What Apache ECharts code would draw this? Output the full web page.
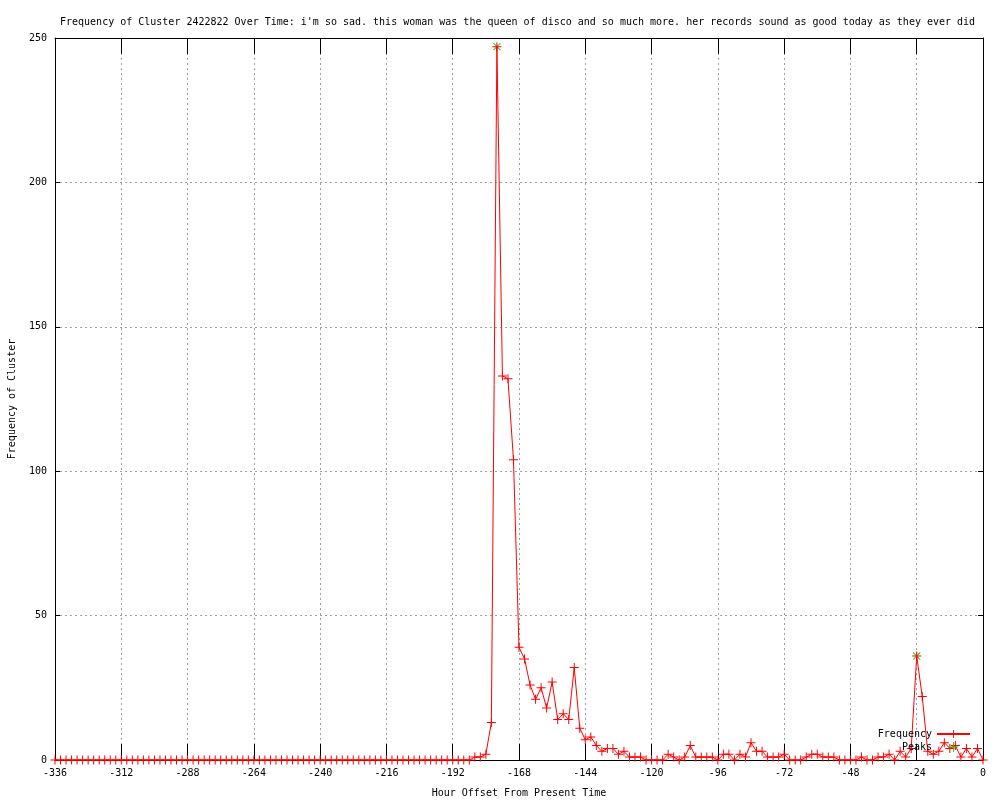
<!DOCTYPE html>
<html>
<head>
<meta charset="utf-8">
<title>Frequency of Cluster 2422822</title>
<script src="https://cdn.jsdelivr.net/npm/echarts@6/dist/echarts.min.js"></script>
<style>
  html, body { margin: 0; padding: 0; background: #fff; }
  #chart { width: 1000px; height: 800px; }
</style>
</head>
<body>
<div id="chart"></div>
<script>
// hour offsets, one row per 24 hours
const hours = [
  -336, -334, -332, -330, -328, -326, -324, -322, -320, -318, -316, -314,
  -312, -310, -308, -306, -304, -302, -300, -298, -296, -294, -292, -290,
  -288, -286, -284, -282, -280, -278, -276, -274, -272, -270, -268, -266,
  -264, -262, -260, -258, -256, -254, -252, -250, -248, -246, -244, -242,
  -240, -238, -236, -234, -232, -230, -228, -226, -224, -222, -220, -218,
  -216, -214, -212, -210, -208, -206, -204, -202, -200, -198, -196, -194,
  -192, -190, -188, -186, -184, -182, -180, -178, -176, -174, -172, -170,
  -168, -166, -164, -162, -160, -158, -156, -154, -152, -150, -148, -146,
  -144, -142, -140, -138, -136, -134, -132, -130, -128, -126, -124, -122,
  -120, -118, -116, -114, -112, -110, -108, -106, -104, -102, -100, -98,
  -96, -94, -92, -90, -88, -86, -84, -82, -80, -78, -76, -74,
  -72, -70, -68, -66, -64, -62, -60, -58, -56, -54, -52, -50,
  -48, -46, -44, -42, -40, -38, -36, -34, -32, -30, -28, -26,
  -24, -22, -20, -18, -16, -14, -12, -10, -8, -6, -4, -2,
  0
];

const frequency = [
  0, 0, 0, 0, 0, 0, 0, 0, 0, 0, 0, 0,
  0, 0, 0, 0, 0, 0, 0, 0, 0, 0, 0, 0,
  0, 0, 0, 0, 0, 0, 0, 0, 0, 0, 0, 0,
  0, 0, 0, 0, 0, 0, 0, 0, 0, 0, 0, 0,
  0, 0, 0, 0, 0, 0, 0, 0, 0, 0, 0, 0,
  0, 0, 0, 0, 0, 0, 0, 0, 0, 0, 0, 0,
  0, 0, 0, 0, 1, 1, 2, 13, 247, 133, 132, 104,
  39, 35, 26, 21, 25, 18, 27, 14, 16, 14, 32, 11,
  7, 8, 5, 3, 4, 4, 2, 3, 1, 1, 1, 0,
  0, 0, 0, 2, 1, 0, 1, 5, 1, 1, 1, 1,
  0, 2, 2, 0, 2, 1, 6, 3, 3, 1, 1, 1,
  2, 0, 0, 0, 1, 2, 2, 1, 1, 1, 0, 0,
  0, 0, 1, 0, 0, 1, 1, 2, 0, 3, 1, 4,
  36, 22, 3, 2, 3, 6, 4, 5, 1, 4, 1, 4,
  0
];

const peakHours = [-176, -24];
const peakValues = [247, 36];

const titleText = "Frequency of Cluster 2422822 Over Time: i'm so sad. this woman was the queen of disco and so much more. her records sound as good today as they ever did";

const font = 'DejaVu Sans Mono';
const plus = 'path://M0,4L9,4L9,5L0,5Z M4,0L5,0L5,9L4,9Z';

const chart = echarts.init(document.getElementById('chart'));

const grid = { left: 55, right: 17, top: 38, bottom: 40, containLabel: false, outerBoundsMode: 'none' };
const dotted = { color: '#a0a0a0', type: [2, 3], width: 1 };
const black = { color: '#000', width: 1 };

const option = {
    animation: false,
    backgroundColor: '#fff',
    textStyle: { fontFamily: font, fontSize: 10, color: '#000' },
    title: {
        text: titleText,
        left: 55,
        top: 12,
        textStyle: { fontFamily: font, fontSize: 10, fontWeight: 'normal', color: '#000' }
    },
    legend: {
        orient: 'vertical',
        right: 24,
        top: 724,
        align: 'right',
        itemWidth: 33,
        itemHeight: 10,
        itemGap: 3,
        textStyle: { fontFamily: font, fontSize: 10, color: '#000' },
        data: ['Frequency', 'Peaks']
    },
    grid: grid,
    xAxis: [
        {
            type: 'value',
            position: 'bottom',
            min: -336,
            max: 0,
            interval: 24,
            name: 'Hour Offset From Present Time',
            nameLocation: 'middle',
            nameGap: 28,
            nameTextStyle: { fontFamily: font, fontSize: 10, color: '#000' },
            axisLine: { onZero: false, lineStyle: black },
            axisTick: { inside: true, length: 16, lineStyle: black },
            axisLabel: { fontFamily: font, fontSize: 10, color: '#000', margin: 8 },
            splitLine: { show: true, lineStyle: dotted }
        },
        {
            type: 'value',
            position: 'top',
            min: -336,
            max: 0,
            interval: 24,
            axisLine: { onZero: false, lineStyle: black },
            axisTick: { inside: true, length: 16, lineStyle: black },
            axisLabel: { show: false },
            splitLine: { show: false }
        }
    ],
    yAxis: [
        {
            type: 'value',
            position: 'left',
            min: 0,
            max: 250,
            interval: 50,
            name: 'Frequency of Cluster',
            nameLocation: 'middle',
            nameGap: 38,
            nameTextStyle: { fontFamily: font, fontSize: 10, color: '#000' },
            axisLine: { show: true, onZero: false, lineStyle: black },
            axisTick: { show: true, inside: true, length: 5, lineStyle: black },
            axisLabel: { fontFamily: font, fontSize: 10, color: '#000', margin: 8 },
            splitLine: { show: true, lineStyle: dotted }
        },
        {
            type: 'value',
            position: 'right',
            min: 0,
            max: 250,
            interval: 50,
            axisLine: { show: true, onZero: false, lineStyle: black },
            axisTick: { show: true, inside: true, length: 5, lineStyle: black },
            axisLabel: { show: false },
            splitLine: { show: false }
        }
    ],
    series: [
        {
            name: 'Frequency',
            type: 'line',
            data: hours.map((h, i) => [h, frequency[i]]),
            clip: false,
            showAllSymbol: true,
            symbol: plus,
            symbolSize: 9,
            lineStyle: { color: '#ff0000', width: 1 },
            itemStyle: { color: '#ff0000' },
            emphasis: { disabled: true }
        },
        {
            name: 'Peaks',
            type: 'scatter',
            data: peakHours.map((h, i) => [h, peakValues[i]]),
            clip: false,
            symbol: plus,
            symbolSize: 10,
            symbolRotate: 45,
            itemStyle: { color: '#00c000' },
            emphasis: { disabled: true }
        }
    ]
};

chart.setOption(option);
</script>
</body>
</html>
